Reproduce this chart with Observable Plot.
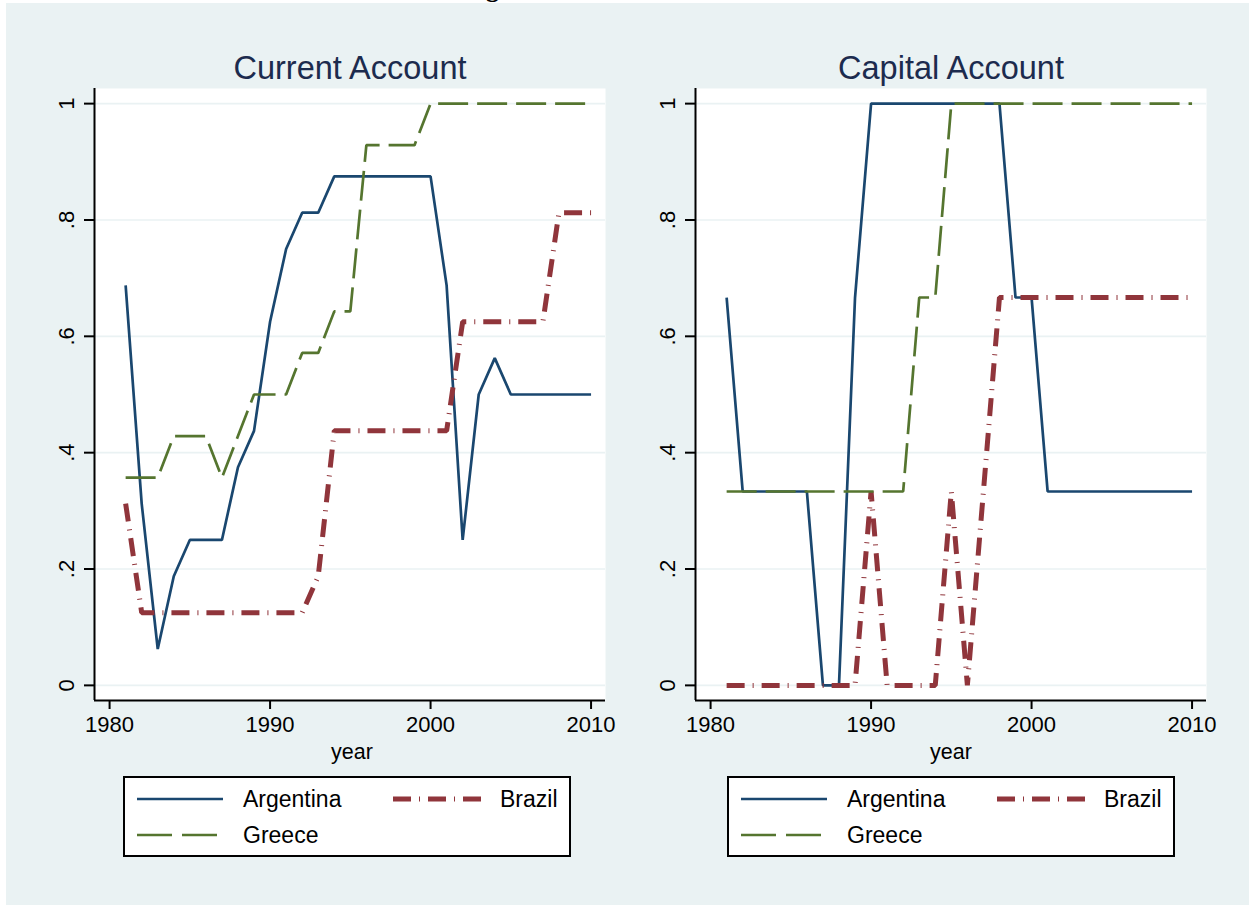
<!DOCTYPE html>
<html>
<head>
<meta charset="utf-8">
<script src="https://cdn.jsdelivr.net/npm/d3@7"></script>
<script src="https://cdn.jsdelivr.net/npm/@observablehq/plot@0.6"></script>
<style>
html, body { margin: 0; padding: 0; background: #fff; }
body { width: 1249px; height: 907px; position: relative; overflow: hidden;
       font-family: "Liberation Sans", Arial, Helvetica, sans-serif; }
#cut { position: absolute; left: 486px; top: -24px; font: bold 26px/26px "Liberation Serif", serif; color: #000; white-space: nowrap; }
#bg { position: absolute; left: 6px; top: 3px; width: 1243px; height: 902px; background: #eaf2f3; }
.panel { position: absolute; top: 80px; width: 600px; height: 680px; }
.title { position: absolute; top: 48px; width: 400px; height: 40px; line-height: 40px; text-align: center;
         font-size: 32.5px; color: #1c2b4e; white-space: nowrap; }
.xlabel { position: absolute; top: 740px; width: 200px; height: 24px; line-height: 24px; text-align: center;
          font-size: 21.5px; color: #000; }
.legend { position: absolute; top: 776px; width: 444px; height: 77px; background: #fff; border: 2px solid #000; }
</style>
</head>
<body>
<div id="cut">g</div>
<div id="bg"></div>
<div id="root"></div>
<script>
// ---------- data ----------
const years = [1981, 1982, 1983, 1984, 1985, 1986, 1987, 1988, 1989, 1990,
               1991, 1992, 1993, 1994, 1995, 1996, 1997, 1998, 1999, 2000,
               2001, 2002, 2003, 2004, 2005, 2006, 2007, 2008, 2009, 2010];
const countries = ["Argentina", "Brazil", "Greece"];

// Current account openness
const caArgentina = [0.6875, 0.3125, 0.0625, 0.1875, 0.25, 0.25, 0.25, 0.375, 0.4375, 0.625,
                     0.75, 0.8125, 0.8125, 0.875, 0.875, 0.875, 0.875, 0.875, 0.875, 0.875,
                     0.6875, 0.25, 0.5, 0.5625, 0.5, 0.5, 0.5, 0.5, 0.5, 0.5];
const caBrazil    = [0.3125, 0.125, 0.125, 0.125, 0.125, 0.125, 0.125, 0.125, 0.125, 0.125,
                     0.125, 0.125, 0.1875, 0.4375, 0.4375, 0.4375, 0.4375, 0.4375, 0.4375, 0.4375,
                     0.4375, 0.625, 0.625, 0.625, 0.625, 0.625, 0.625, 0.8125, 0.8125, 0.8125];
const caGreece    = [0.3571, 0.3571, 0.3571, 0.4286, 0.4286, 0.4286, 0.3571, 0.4286, 0.5, 0.5,
                     0.5, 0.5714, 0.5714, 0.6429, 0.6429, 0.9286, 0.9286, 0.9286, 0.9286, 1,
                     1, 1, 1, 1, 1, 1, 1, 1, 1, 1];

// Capital account openness
const kaArgentina = [0.6667, 0.3333, 0.3333, 0.3333, 0.3333, 0.3333, 0, 0, 0.6667, 1,
                     1, 1, 1, 1, 1, 1, 1, 1, 0.6667, 0.6667,
                     0.3333, 0.3333, 0.3333, 0.3333, 0.3333, 0.3333, 0.3333, 0.3333, 0.3333, 0.3333];
const kaBrazil    = [0, 0, 0, 0, 0, 0, 0, 0, 0, 0.3333,
                     0, 0, 0, 0, 0.3333, 0, 0.3333, 0.6667, 0.6667, 0.6667,
                     0.6667, 0.6667, 0.6667, 0.6667, 0.6667, 0.6667, 0.6667, 0.6667, 0.6667, 0.6667];
const kaGreece    = [0.3333, 0.3333, 0.3333, 0.3333, 0.3333, 0.3333, 0.3333, 0.3333, 0.3333, 0.3333,
                     0.3333, 0.3333, 0.6667, 0.6667, 1, 1, 1, 1, 1, 1,
                     1, 1, 1, 1, 1, 1, 1, 1, 1, 1];

const panelTitles = ["Current Account", "Capital Account"];
const xTitle = "year";
const xTicks = [1980, 1990, 2000, 2010];
const yTicks = [0, 0.2, 0.4, 0.6, 0.8, 1];
const yTickLabels = ["0", ".2", ".4", ".6", ".8", "1"];

// ---------- styling ----------
const seriesStyle = {
  Argentina: {stroke: "#1a476f", width: 2.7, dash: "none"},
  Brazil:    {stroke: "#90353b", width: 5,   dash: "18,8,1,8"},
  Greece:    {stroke: "#55752f", width: 2.7, dash: "30,9"}
};
const xDomain = [1979.06, 2010.9];
const yDomain = [-0.026, 1.026];
const FONT = "Liberation Sans, Arial, Helvetica, sans-serif";

const panels = [
  {title: panelTitles[0], series: {Argentina: caArgentina, Brazil: caBrazil, Greece: caGreece}, left: 30, titleCx: 350, xlabCx: 352, legLeft: 123},
  {title: panelTitles[1], series: {Argentina: kaArgentina, Brazil: kaBrazil, Greece: kaGreece}, left: 631, titleCx: 951, xlabCx: 951, legLeft: 727}
];

const root = document.getElementById("root");

function makePanel(p) {
  const rows = [];
  for (const c of countries) {
    p.series[c].forEach((v, i) => rows.push({country: c, year: years[i], value: v}));
  }
  const lineMarks = countries.map(c => Plot.line(rows.filter(d => d.country === c), {
    x: "year", y: "value",
    stroke: seriesStyle[c].stroke,
    strokeWidth: seriesStyle[c].width,
    strokeDasharray: seriesStyle[c].dash,
    strokeLinecap: "butt",
    strokeLinejoin: "miter",
    curve: "linear"
  }));
  const svg = Plot.plot({
    width: 600, height: 680,
    marginLeft: 64, marginRight: 25, marginTop: 8, marginBottom: 60,
    style: {background: "transparent", fontFamily: FONT, fontSize: "22px", color: "#000", overflow: "visible"},
    x: {domain: xDomain},
    y: {domain: yDomain},
    marks: [
      Plot.frame({fill: "white", stroke: "none"}),
      Plot.gridY(yTicks, {stroke: "#eaf2f3", strokeOpacity: 1, strokeWidth: 1.6}),
      ...lineMarks,
      Plot.ruleX([xDomain[0]], {stroke: "#000", strokeWidth: 2}),
      Plot.ruleY([yDomain[0]], {stroke: "#000", strokeWidth: 2}),
      Plot.axisY(yTicks, {
        tickFormat: d => yTickLabels[yTicks.indexOf(d)],
        tickRotate: -90, tickSize: 10, tickPadding: 11,
        stroke: "#000", strokeWidth: 2, fill: "#000", fontSize: 22, label: null
      }),
      Plot.axisX(xTicks, {
        tickFormat: d => String(d),
        tickSize: 9, tickPadding: 7,
        stroke: "#000", strokeWidth: 2, fill: "#000", fontSize: 22, label: null
      })
    ]
  });
  const wrap = document.createElement("div");
  wrap.className = "panel";
  wrap.style.left = p.left + "px";
  wrap.appendChild(svg);
  root.appendChild(wrap);

  const t = document.createElement("div");
  t.className = "title";
  t.textContent = p.title;
  t.style.left = (p.titleCx - 200) + "px";
  root.appendChild(t);

  const xl = document.createElement("div");
  xl.className = "xlabel";
  xl.textContent = xTitle;
  xl.style.left = (p.xlabCx - 100) + "px";
  root.appendChild(xl);

  // legend
  const leg = document.createElement("div");
  leg.className = "legend";
  leg.style.left = p.legLeft + "px";
  const lsvg = d3.create("svg").attr("width", 444).attr("height", 77)
    .style("font-family", FONT).style("font-size", "23px");
  const entries = [
    {c: "Argentina", x0: 12, x1: 98, tx: 118, y: 21},
    {c: "Brazil", x0: 268, x1: 357, tx: 375, y: 21},
    {c: "Greece", x0: 12, x1: 98, tx: 118, y: 57}
  ];
  for (const e of entries) {
    const s = seriesStyle[e.c];
    lsvg.append("line").attr("x1", e.x0).attr("x2", e.x1).attr("y1", e.y).attr("y2", e.y)
      .attr("stroke", s.stroke).attr("stroke-width", s.width)
      .attr("stroke-dasharray", e.c === "Greece" ? "35,10" : s.dash);
    lsvg.append("text").attr("x", e.tx).attr("y", e.y).attr("dy", "0.36em")
      .attr("fill", "#000").text(e.c);
  }
  leg.appendChild(lsvg.node());
  root.appendChild(leg);
}

panels.forEach(makePanel);
</script>
</body>
</html>
